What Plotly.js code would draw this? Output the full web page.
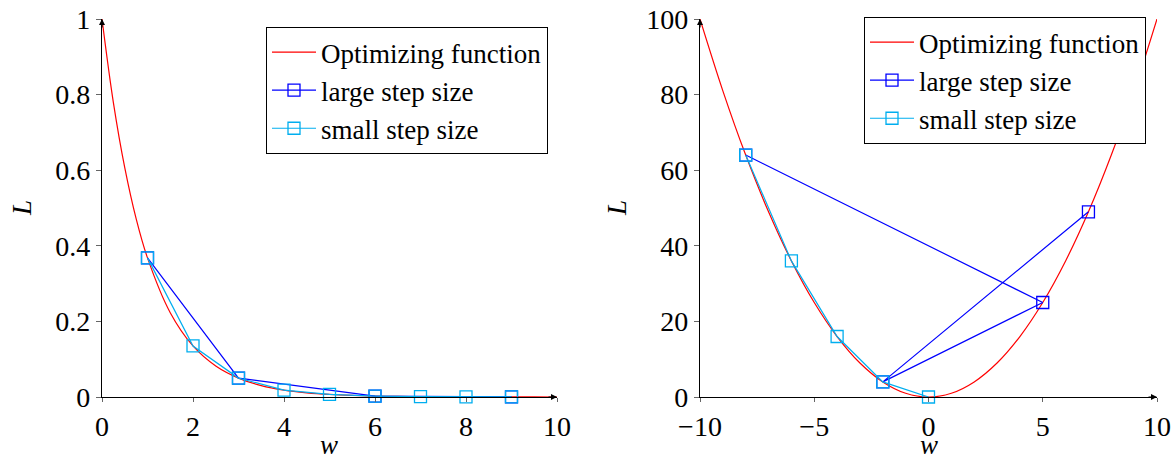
<!DOCTYPE html>
<html><head><meta charset="utf-8">
<script src="https://cdn.plot.ly/plotly-3.0.1.min.js"></script>
<style>html,body{margin:0;padding:0;background:#fff}#plot{width:1176px;height:465px}</style>
</head><body><div id="plot"></div>
<script>
// Left panel: L = exp(-w)
const leftCurveW = [0,0.25,0.5,0.75,1,1.5,2,2.5,3,3.5,4,4.5,5,5.5,6,6.5,7,7.5,8,8.5,9,9.5,10];
const leftCurveL = [1,0.779,0.607,0.472,0.368,0.223,0.135,0.082,0.050,0.030,0.018,0.011,0.0067,0.0041,0.0025,0.0015,0.0009,0.00055,0.0003,0.0002,0.0001,0.00007,0.00005];
const leftLargeW = [1,3,6,9];
const leftLargeL = [0.368,0.050,0.0025,0.0001];
const leftSmallW = [1,2,3,4,5,6,7,8,9];
const leftSmallL = [0.368,0.135,0.050,0.018,0.0067,0.0025,0.0009,0.0003,0.0001];
// Right panel: L = w^2
const rightCurveW = [-10,-9,-8,-7,-6,-5,-4,-3,-2,-1,0,1,2,3,4,5,6,7,8,9,10];
const rightCurveL = [100,81,64,49,36,25,16,9,4,1,0,1,4,9,16,25,36,49,64,81,100];
const rightLargeW = [-8,5,-2,7];
const rightLargeL = [64,25,4,49];
const rightSmallW = [-8,-6,-4,-2,0];
const rightSmallL = [64,36,16,4,0];
const legendNames = ['Optimizing function','large step size','small step size'];
const xTicksLeft = [0,2,4,6,8,10];
const yTicksLeft = [0,0.2,0.4,0.6,0.8,1];
const xTicksRight = [-10,-5,0,5,10];
const yTicksRight = [0,20,40,60,80,100];
const xTitle = 'w', yTitle = 'L';

const RED='#ff0000', BLUE='#0000ff', CYAN='#00aeef';
const FONT='Liberation Serif';

function traces(xa, ya, lg, cw, cl, lw, ll, sw, sl){
  return [
    {x:cw,y:cl,xaxis:xa,yaxis:ya,legend:lg,name:legendNames[0],mode:'lines',line:{color:RED,width:1.2,shape:'spline'},hoverinfo:'skip'},
    {x:lw,y:ll,xaxis:xa,yaxis:ya,legend:lg,name:legendNames[1],mode:'lines+markers',line:{color:BLUE,width:1.2},marker:{symbol:'square-open',size:12,color:BLUE,line:{width:1.3}},cliponaxis:false},
    {x:sw,y:sl,xaxis:xa,yaxis:ya,legend:lg,name:legendNames[2],mode:'lines+markers',line:{color:CYAN,width:1.2},marker:{symbol:'square-open',size:12,color:CYAN,line:{width:1.3}},cliponaxis:false}
  ];
}
const data = [
  ...traces('x','y','legend',leftCurveW,leftCurveL,leftLargeW,leftLargeL,leftSmallW,leftSmallL),
  ...traces('x2','y2','legend2',rightCurveW,rightCurveL,rightLargeW,rightLargeL,rightSmallW,rightSmallL)
];

function xax(dom, rng, ticks, anchor){
  return {domain:dom, range:rng, anchor:anchor, tickvals:ticks, showgrid:false, zeroline:false,
    showline:true, linecolor:'#000', linewidth:1.2, ticks:'outside', ticklen:4, tickcolor:'#666',
    tickfont:{family:FONT,size:28,color:'#000'}};
}
function yax(dom, rng, ticks, anchor){
  return {domain:dom, range:rng, anchor:anchor, tickvals:ticks, showgrid:false, zeroline:false,
    showline:true, linecolor:'#000', linewidth:1.2, ticks:'outside', ticklen:5, tickcolor:'#666',
    tickfont:{family:FONT,size:28,color:'#000'}};
}
const yd=[1-397/465, 1-19/465];
function arrow(xr,yr,x,y,ax,ay){return {xref:xr,yref:yr,x:x,y:y,ax:ax,ay:ay,text:'',showarrow:true,arrowhead:2,arrowsize:1,arrowwidth:1.2,arrowcolor:'#000'};}
function title(px,py,txt,rot){return {xref:'paper',yref:'paper',x:px/1176,y:1-py/465,xanchor:'center',yanchor:'middle',showarrow:false,textangle:rot,text:'<i>'+txt+'</i>',font:{family:FONT,size:27,color:'#000'}};}
const legendStyle = {bordercolor:'#000',borderwidth:1,bgcolor:'#fff',font:{family:FONT,size:27,color:'#000'},itemwidth:44,tracegroupgap:0,xanchor:'right',yanchor:'top'};
const layout = {
  width:1176, height:465, margin:{l:0,r:0,t:0,b:0}, paper_bgcolor:'#fff', plot_bgcolor:'#fff',
  font:{family:FONT,color:'#000'},
  xaxis: xax([102/1176,557/1176],[0,10],xTicksLeft,'y'),
  yaxis: yax(yd,[0,1],yTicksLeft,'x'),
  xaxis2: xax([700/1176,1157/1176],[-10,10],xTicksRight,'y2'),
  yaxis2: yax(yd,[0,100],yTicksRight,'x2'),
  legend: Object.assign({x:548/1176,y:1-27/465},legendStyle),
  legend2: Object.assign({x:1146/1176,y:1-17/465},legendStyle),
  annotations:[
    arrow('x','y',10,0,-10,0), arrow('x','y',0,1,0,10),
    arrow('x2','y2',10,0,-10,0), arrow('x2','y2',-10,100,0,10),
    title(329,445,xTitle,0), title(929,445,xTitle,0),
    title(22,208,yTitle,-90), title(617,208,yTitle,-90)
  ],
  showlegend:true
};
Plotly.newPlot('plot', data, layout, {staticPlot:true}).then(gd=>
  Plotly.relayout(gd,{annotations:layout.annotations.map(a=>Object.assign({},a))}));
</script></body></html>
